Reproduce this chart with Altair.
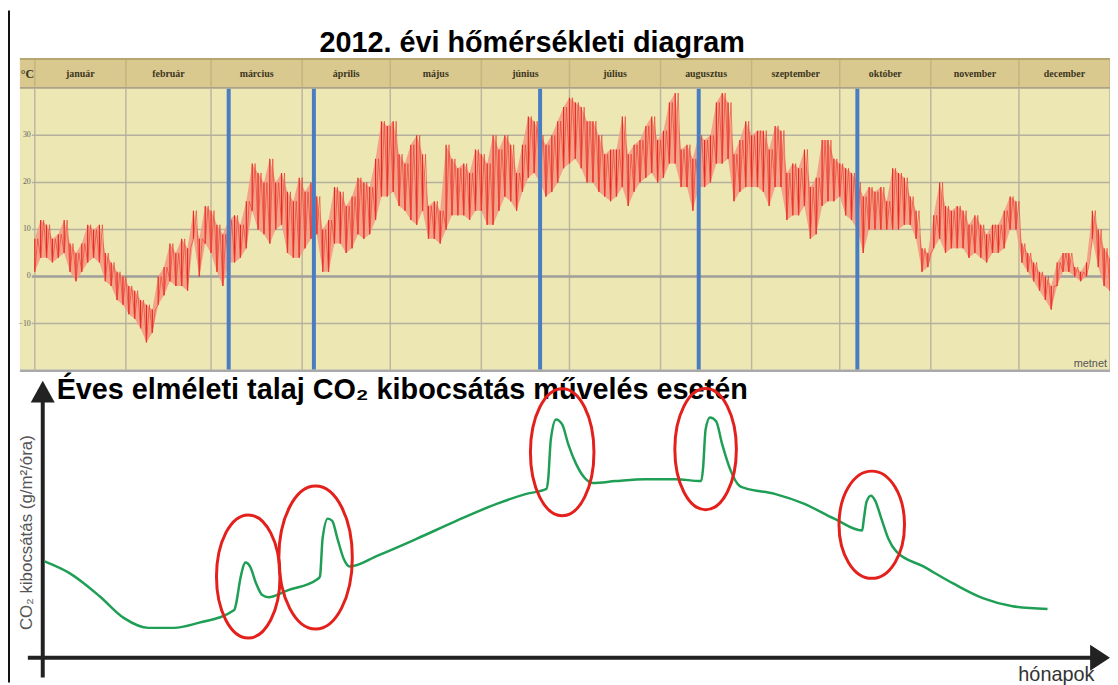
import altair as alt
import pandas as pd

# ---------------- DATA ----------------
# Top panel: 2012 temperatures, sampled every 2nd day (day of year), highs and lows in °C
temp_days = list(range(0, 367, 2))
temp_high = [
    8, 12, 11, 8, 9, 12, 7, 5, 7, 11,
    10, 11, 5, 3, 1, 0, -2, -3, -5, -6,
    -7, 0, 2, 7, 5, 8, 6, 14, 8, 15,
    14, 11, 9, 12, 13, 11, 16, 24, 22, 20,
    25, 20, 22, 18, 16, 21, 18, 20, 17, 10,
    12, 19, 18, 15, 17, 21, 20, 19, 25, 33,
    32, 33, 26, 24, 28, 30, 26, 15, 16, 14,
    28, 25, 23, 24, 22, 27, 26, 24, 30, 27,
    30, 28, 22, 28, 34, 33, 30, 28, 30, 33,
    36, 38, 37, 36, 33, 33, 30, 26, 27, 27,
    34, 26, 28, 29, 32, 34, 29, 31, 37, 39,
    27, 28, 25, 30, 29, 30, 37, 39, 37, 26,
    29, 33, 30, 31, 31, 27, 32, 31, 22, 24,
    23, 27, 19, 21, 29, 29, 25, 24, 23, 22,
    20, 17, 19, 18, 19, 16, 23, 22, 21, 17,
    14, 6, 5, 13, 20, 15, 14, 15, 14, 11,
    13, 11, 9, 11, 11, 14, 17, 16, 7, 5,
    3, 1, 0, -2, 3, 5, 5, 2, 1, 3,
    14, 10, 6, 4,
]
temp_low = [
    1, 4, 4, 3, 4, 5, 1, -1, 1, 3,
    4, 3, -1, -2, -5, -6, -8, -9, -11, -14,
    -12, -6, -4, -1, -2, -2, -3, 8, 0, 7,
    5, 1, -2, 3, 3, 4, 6, 14, 10, 9,
    7, 10, 11, 5, 4, 4, 6, 8, 9, 1,
    1, 7, 7, 5, 6, 9, 8, 9, 12, 17,
    17, 18, 15, 14, 12, 11, 14, 8, 8, 7,
    10, 13, 13, 13, 12, 14, 14, 11, 11, 14,
    17, 16, 14, 18, 21, 22, 20, 17, 18, 20,
    23, 24, 25, 23, 20, 20, 18, 17, 16, 17,
    19, 15, 18, 20, 21, 22, 20, 21, 24, 24,
    19, 19, 14, 19, 19, 20, 24, 24, 25, 16,
    18, 19, 19, 19, 18, 15, 19, 19, 12, 13,
    13, 15, 8, 9, 15, 16, 16, 17, 13, 12,
    10, 5, 10, 10, 10, 10, 10, 10, 11, 11,
    8, 1, 2, 6, 8, 5, 6, 6, 6, 4,
    5, 4, 3, 5, 5, 6, 10, 10, 3, 1,
    -1, -3, -5, -7, -2, 1, 1, 0, -1, 0,
    8, 2, -2, -3,
]
month_names = ["január", "február", "március", "április", "május", "június",
               "július", "augusztus", "szeptember", "október", "november", "december"]
month_start_days = [0, 31, 60, 91, 121, 152, 182, 213, 244, 274, 305, 335, 366]
temp_ticks = [-10, 0, 10, 20, 30]
tillage_days = [66, 95, 172, 226, 280]

# Bottom panel: theoretical soil CO2 emission (months, arbitrary units)
co2_month = [0.02, 0.31, 0.65, 0.93, 1.21, 1.50, 1.78, 2.19,
             2.21, 2.26, 2.32, 2.37, 2.44, 2.51, 2.58,
             2.80, 3.14,
             3.17, 3.20, 3.26, 3.31, 3.37, 3.44, 3.51,
             3.83, 4.28, 4.73, 5.19, 5.53, 5.76,
             5.78, 5.81, 5.87, 5.94, 6.01, 6.10, 6.21, 6.29,
             6.55, 6.89, 7.23, 7.53,
             7.55, 7.58, 7.63, 7.70, 7.77, 7.86, 7.97, 8.03,
             8.37, 8.71, 9.05, 9.37,
             9.39, 9.42, 9.47, 9.52, 9.59, 9.67, 9.76,
             10.07, 10.41, 10.75, 11.09, 11.49]
co2_value = [3.50, 3.07, 2.25, 1.46, 1.11, 1.11, 1.29, 1.75,
             1.96, 2.89, 3.46, 3.32, 2.71, 2.29, 2.21,
             2.46, 2.86,
             2.96, 4.32, 5.04, 4.96, 4.32, 3.61, 3.32,
             3.71, 4.32, 4.96, 5.57, 5.93, 6.11,
             6.46, 7.89, 8.61, 8.43, 7.71, 7.00, 6.46, 6.32,
             6.39, 6.46, 6.46, 6.39,
             6.82, 8.25, 8.68, 8.54, 7.71, 6.82, 6.21, 6.14,
             5.93, 5.57, 5.04, 4.61,
             5.04, 5.64, 5.86, 5.68, 5.04, 4.32, 3.86,
             3.32, 2.71, 2.18, 1.89, 1.79]
spike_month = [2.35, 3.12, 5.94, 7.58, 9.48]
spike_value = [2.96, 3.64, 7.43, 7.54, 4.82]

# ---------------- STYLE ----------------
W, H = 1110, 677
FONT = "Liberation Sans"
ellipse_half = [(32, 62), (37, 72), (32, 64), (31, 61), (33, 54)]  # px (rx, ry)

X_T = alt.Scale(domain=[0, 366], range=[27, 1110], nice=False, zero=False)
Y_T = alt.Scale(domain=[-20, 40], range=[362.8, 78.4], nice=False, zero=False)
X_C = alt.Scale(domain=[0, 12], range=[35, 1092], nice=False, zero=False)
Y_C = alt.Scale(domain=[0, 10], range=[653, 373], nice=False, zero=False)

one = pd.DataFrame({"k": [0]})


def rect(x1, x2, y1, y2, color):
    return alt.Chart(one).mark_rect(color=color).encode(
        x=alt.value(x1), x2=alt.value(x2), y=alt.value(y1), y2=alt.value(y2))


def hrule(x1, x2, y, color, w):
    return alt.Chart(one).mark_rule(color=color, strokeWidth=w).encode(
        x=alt.value(x1), x2=alt.value(x2), y=alt.value(y))


def vrule(x, y1, y2, color, w):
    return alt.Chart(one).mark_rule(color=color, strokeWidth=w).encode(
        x=alt.value(x), y=alt.value(y1), y2=alt.value(y2))


def label(text, x, y, size, color="#000", bold=False, align="center", angle=0, font=FONT, baseline="alphabetic"):
    kw = dict(text=text, fontSize=size, color=color, align=align, font=font, baseline=baseline,
              fontWeight="bold" if bold else "normal")
    if angle:
        kw["angle"] = angle
    return alt.Chart(one).mark_text(**kw).encode(x=alt.value(x), y=alt.value(y))


layers = []

# ---- top panel ----
layers.append(label("2012. évi hőmérsékleti diagram", 528, 42, 29, bold=True))
layers.append(rect(12, W, 78, 362, "#ede7b4"))
layers.append(rect(12, W, 49, 78, "#d9c98f"))
layers.append(hrule(12, W, 49, "#b8a670", 2))
layers.append(hrule(12, W, 78, "#aaa38a", 2))

month_df = pd.DataFrame({"start": month_start_days})
layers.append(alt.Chart(month_df).mark_rule(color="#c4b47e", strokeWidth=1.5).encode(
    x=alt.X("start:Q", scale=X_T, axis=None), y=alt.value(50), y2=alt.value(77)))
layers.append(alt.Chart(month_df).mark_rule(color="#bcb69e", strokeWidth=1.5).encode(
    x=alt.X("start:Q", scale=X_T, axis=None), y=alt.value(79), y2=alt.value(362)))

tick_df = pd.DataFrame({"t": temp_ticks})
layers.append(alt.Chart(tick_df).mark_rule(color="#b5b09e", strokeWidth=1.5).encode(
    y=alt.Y("t:Q", scale=Y_T, axis=None), x=alt.value(24), x2=alt.value(W)))
zero_df = pd.DataFrame({"t": [0]})
layers.append(alt.Chart(zero_df).mark_rule(color="#a2a09a", strokeWidth=2.5).encode(
    y=alt.Y("t:Q", scale=Y_T, axis=None), x=alt.value(24), x2=alt.value(W)))
layers.append(alt.Chart(tick_df).mark_text(fontSize=8, color="#666", align="right", baseline="middle",
                                           font="Liberation Serif").encode(
    y=alt.Y("t:Q", scale=Y_T, axis=None), x=alt.value(23), text="t:Q"))

band_df = pd.DataFrame({"day": temp_days, "hi": temp_high, "lo": temp_low})
layers.append(alt.Chart(band_df).mark_area(color="#f39683", opacity=0.85, clip=True).encode(
    x=alt.X("day:Q", scale=X_T, axis=None), y=alt.Y("lo:Q", scale=Y_T, axis=None), y2="hi:Q"))
layers.append(alt.Chart(band_df).mark_rule(color="#e8281f", strokeWidth=1.2, clip=True).encode(
    x=alt.X("day:Q", scale=X_T, axis=None), y=alt.Y("lo:Q", scale=Y_T, axis=None), y2="hi:Q"))

zz = []
for i, (d, h, l) in enumerate(zip(temp_days, temp_high, temp_low)):
    zz.append({"day": d, "t": l, "k": 2 * i})
    zz.append({"day": d + 1, "t": h, "k": 2 * i + 1})
zz_df = pd.DataFrame(zz)
layers.append(alt.Chart(zz_df).mark_line(color="#ec3b2e", strokeWidth=0.8, opacity=0.8, clip=True).encode(
    x=alt.X("day:Q", scale=X_T, axis=None), y=alt.Y("t:Q", scale=Y_T, axis=None),
    order="k:Q"))

till_df = pd.DataFrame({"day": tillage_days})
layers.append(alt.Chart(till_df).mark_rule(color="#4a7cc2", strokeWidth=4).encode(
    x=alt.X("day:Q", scale=X_T, axis=None), y=alt.value(79), y2=alt.value(362)))

mid = [(a + b) / 2 for a, b in zip(month_start_days[:-1], month_start_days[1:])]
mname_df = pd.DataFrame({"mid": mid, "name": month_names})
layers.append(alt.Chart(mname_df).mark_text(fontSize=10, fontWeight="bold", color="#3d3620",
                                            font="Liberation Serif", baseline="middle").encode(
    x=alt.X("mid:Q", scale=X_T, axis=None), y=alt.value(64), text="name:N"))
layers.append(label("°C", 19.5, 64, 12, color="#3d3620", bold=True, font="Liberation Serif", baseline="middle"))
layers.append(hrule(12, W, 363, "#a9a9a9", 2.5))
layers.append(label("metnet", 1107, 359, 11, color="#555", align="right"))

# ---- bottom panel ----
layers.append(label("Éves elméleti talaj CO₂ kibocsátás művelés esetén", 49, 391, 29, bold=True, align="left"))
layers.append(vrule(35, 388, 672, "#222", 4))
layers.append(hrule(20, 1096, 652, "#222", 4))
layers.append(alt.Chart(one).mark_point(shape="M 0 -1 L 1.1 1 L -1.1 1 Z", size=484, filled=True,
                                        color="#222", opacity=1).encode(x=alt.value(35), y=alt.value(384)))
layers.append(alt.Chart(one).mark_point(shape="M 1 0 L -1 -1.3 L -1 1.3 Z", size=400, filled=True,
                                        color="#222", opacity=1).encode(x=alt.value(1100), y=alt.value(652)))

co2_df = pd.DataFrame({"m": co2_month, "v": co2_value})
layers.append(alt.Chart(co2_df).mark_line(color="#1f9e55", strokeWidth=2.5, interpolate="monotone").encode(
    x=alt.X("m:Q", scale=X_C, axis=None), y=alt.Y("v:Q", scale=Y_C, axis=None)))

k = 0.5523
for (m, v), (rx, ry) in zip(zip(spike_month, spike_value), ellipse_half):
    a = rx / ry
    path = (f"M 0 -1 C {k*a:.4f} -1 {a:.4f} {-k:.4f} {a:.4f} 0 "
            f"C {a:.4f} {k:.4f} {k*a:.4f} 1 0 1 "
            f"C {-k*a:.4f} 1 {-a:.4f} {k:.4f} {-a:.4f} 0 "
            f"C {-a:.4f} {-k:.4f} {-k*a:.4f} -1 0 -1 Z")
    edf = pd.DataFrame({"m": [m], "v": [v]})
    layers.append(alt.Chart(edf).mark_point(shape=path, size=(2 * ry) ** 2, filled=False,
                                            stroke="#e3201b", strokeWidth=3, opacity=1).encode(
        x=alt.X("m:Q", scale=X_C, axis=None), y=alt.Y("v:Q", scale=Y_C, axis=None)))

layers.append(label("CO₂ kibocsátás (g/m²/óra)", 19, 526, 17, color="#555", angle=270, baseline="middle"))
layers.append(label("hónapok", 1056, 675, 20, color="#333"))
layers.append(vrule(1, 0, H, "#111", 2))

chart = alt.layer(*layers).resolve_scale(x="independent", y="independent").properties(
    width=W, height=H, autosize=alt.AutoSizeParams(type="none"), padding=0,
    background="white",
).configure_view(stroke=None)

chart.save("out.html", embed_options={"renderer": "svg", "actions": False})
